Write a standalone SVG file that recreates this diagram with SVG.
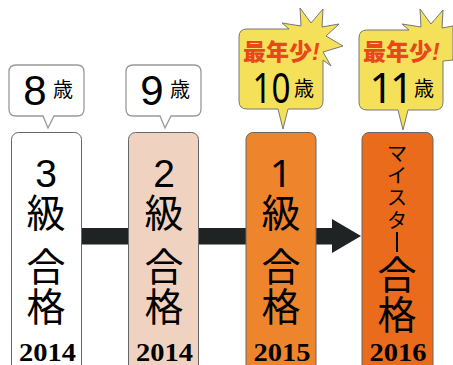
<svg xmlns="http://www.w3.org/2000/svg" width="453" height="365" viewBox="0 0 453 365">
<style>
.box{stroke:#666;stroke-width:1}
.bub{fill:#fff;stroke:#999;stroke-width:1.3}
.sb{fill:#f5e05a;stroke:#777;stroke-width:1}
text{font-family:"Noto Sans CJK JP","Liberation Sans",sans-serif;fill:#000;text-anchor:middle}
.yr{font-family:"Liberation Serif",serif;font-weight:700;font-size:25px}
.num{font-family:"Liberation Sans",sans-serif;font-size:42px}
.num2{font-family:"Noto Sans",sans-serif;font-size:41px}
.sai{font-size:20px}
.big{font-size:39px}
.n{font-size:39px;font-family:"Liberation Sans",sans-serif}
.n1{font-size:39px;font-family:"Noto Sans",sans-serif}
.sh{font-size:23px;font-weight:900;fill:#e8481c;text-anchor:start}
.ex{font-family:"Liberation Sans",sans-serif;font-style:italic;font-weight:700}
.ka{font-size:20px}
</style>
<g id="connectors">
<rect x="80" y="228" width="254" height="16.500" fill="#1f2324"/>
<path d="M332 219L361 236L332 253Z" fill="#1f2324"/>
</g>
<g id="n1">
<rect class="box" x="11.500" y="132.500" width="70" height="240" rx="7" fill="#fff"/>
<text class="n" x="46" y="187">3</text>
<text class="big" x="46" y="227">級</text>
<text class="big" x="46" y="281">合</text>
<text class="big" x="46" y="321">格</text>
<text class="yr" x="47.500" y="361" textLength="57" lengthAdjust="spacingAndGlyphs">2014</text>
</g>
<g id="n2">
<rect class="box" x="128.500" y="132.500" width="70" height="240" rx="7" fill="#efd3c0"/>
<text class="n" x="164" y="187">2</text>
<text class="big" x="164" y="227">級</text>
<text class="big" x="164" y="281">合</text>
<text class="big" x="164" y="321">格</text>
<text class="yr" x="164.500" y="361" textLength="57" lengthAdjust="spacingAndGlyphs">2014</text>
</g>
<g id="n3">
<rect class="box" x="246" y="132.500" width="70" height="240" rx="7" fill="#ee852d"/>
<text class="n1" x="281" y="187">1</text>
<text class="big" x="281" y="227">級</text>
<text class="big" x="281" y="281">合</text>
<text class="big" x="281" y="321">格</text>
<text class="yr" x="282" y="361" textLength="57" lengthAdjust="spacingAndGlyphs">2015</text>
</g>
<g id="n4">
<rect class="box" x="362" y="132.500" width="71" height="240" rx="7" fill="#eb6b1d"/>
<text class="ka" x="397" y="161">マ</text>
<text class="ka" x="397" y="183">イ</text>
<text class="ka" x="397" y="205">ス</text>
<text class="ka" x="397" y="228">タ</text>
<rect x="396" y="232" width="2" height="20" fill="#000"/>
<text class="big" x="397" y="289">合</text>
<text class="big" x="397" y="329">格</text>
<text class="yr" x="398" y="361" textLength="57" lengthAdjust="spacingAndGlyphs">2016</text>
</g>
<g id="b1">
<path class="bub" d="M16 65H77Q84 65 84 72V109Q84 116 77 116H54L48 128L43 116H16Q9 116 9 109V72Q9 65 16 65Z"/>
<text class="num" x="35" y="105">8</text>
<text class="sai" x="63" y="97">歳</text>
</g>
<g id="b2">
<path class="bub" d="M133 65H194Q201 65 201 72V109Q201 116 194 116H171L165 128L160 116H133Q126 116 126 109V72Q126 65 133 65Z"/>
<text class="num" x="152" y="105">9</text>
<text class="sai" x="180" y="97">歳</text>
</g>
<g id="b3">
<path class="sb" d="M247 29H289L282 23L301 26L300 8L311 23L323 9L322 27L339 24L326 36L343 46L323 52L331 66L323 60V101Q323 109 315 109H288L283 129L278 109H247Q239 109 239 101V37Q239 29 247 29Z"/>
<text class="sh" x="243" y="60">最年少<tspan class="ex">!</tspan></text>
<text class="num2" x="271.500" y="103" textLength="38" lengthAdjust="spacingAndGlyphs">10</text>
<text class="sai" x="304" y="96">歳</text>
</g>
<g id="b4">
<path class="sb" d="M367 30H409L402 24L421 27L420 9L431 24L443 10L442 28L453 26V60L443 61V102Q443 110 435 110H408L403 130L398 110H367Q359 110 359 102V38Q359 30 367 30Z"/>
<text class="sh" x="363" y="60">最年少<tspan class="ex">!</tspan></text>
<text class="num2" x="390" y="103" letter-spacing="-3">11</text>
<text class="sai" x="424" y="96">歳</text>
</g>
</svg>
